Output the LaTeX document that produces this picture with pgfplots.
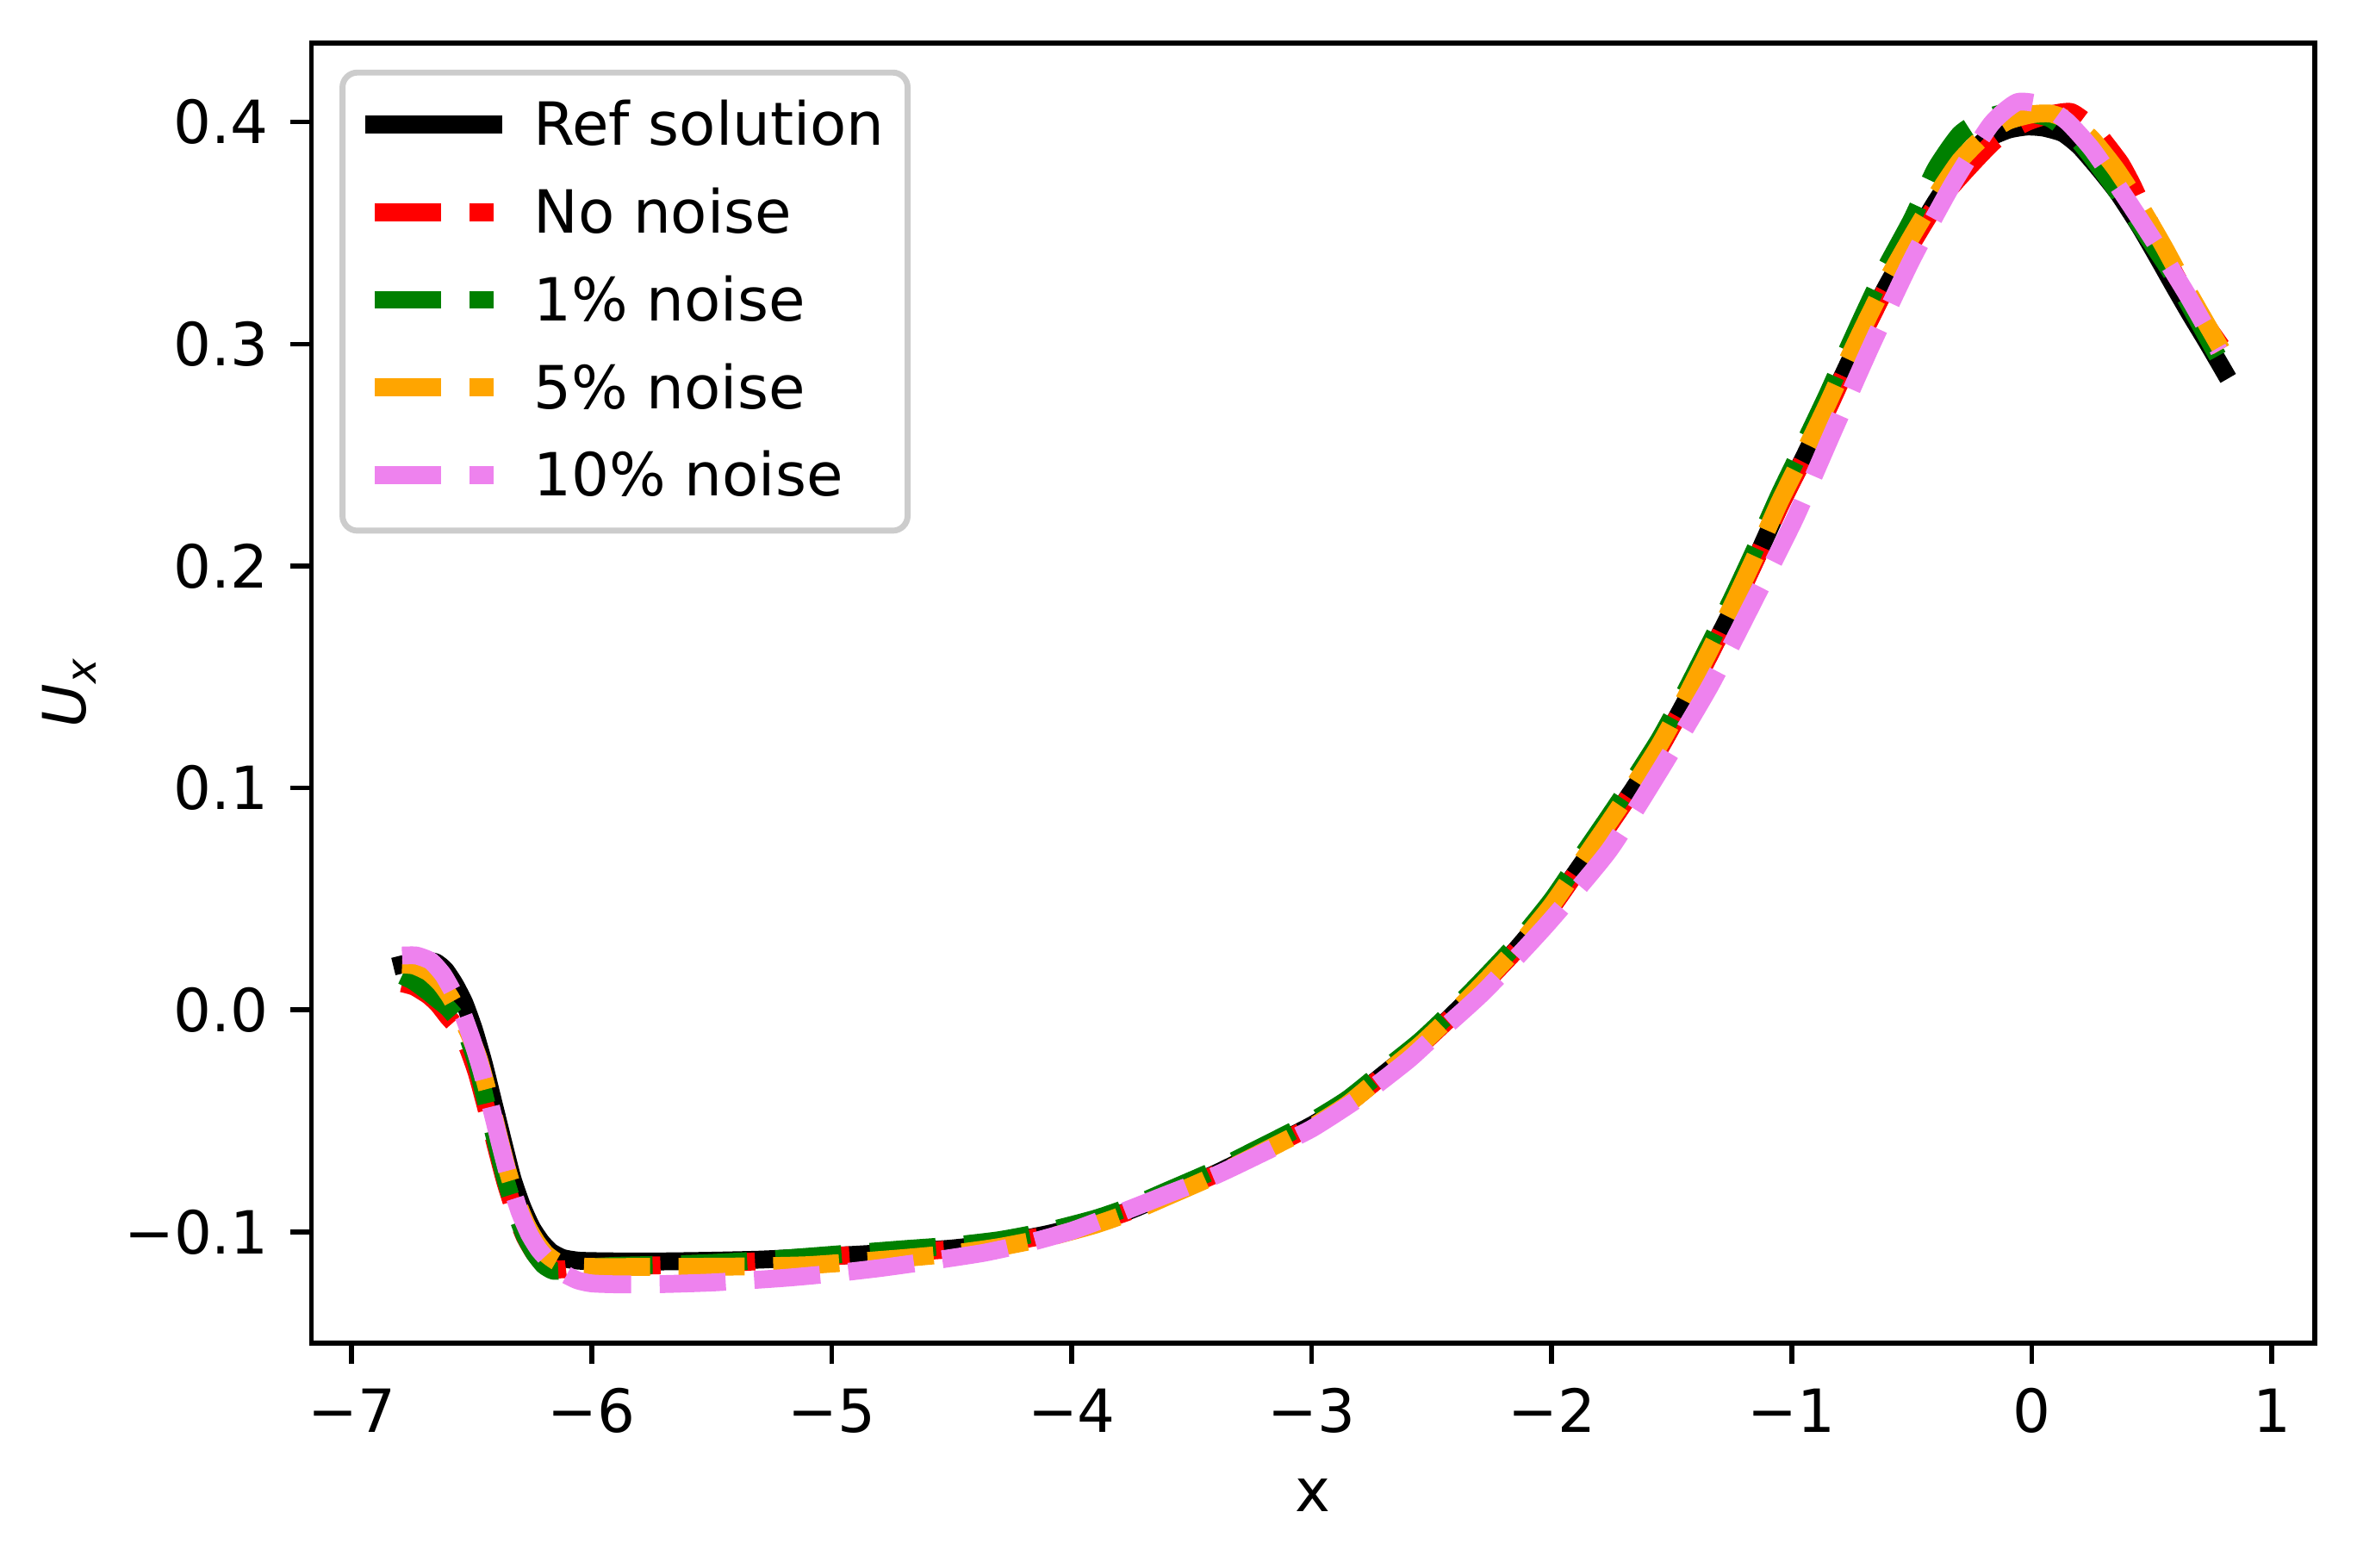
\documentclass[border=0pt]{standalone}
\usepackage{fontspec}
\setmainfont{DejaVu Sans}
\usepackage{pgfplots}
\pgfplotsset{compat=1.18}
\definecolor{mplgreen}{RGB}{0,128,0}
\definecolor{mplorange}{RGB}{255,165,0}
\definecolor{mplviolet}{RGB}{238,130,238}
\definecolor{legendedge}{gray}{0.8}
\begin{document}
\fontsize{10}{12}\selectfont
\begin{tikzpicture}
\begin{axis}[
  at={(0,0)}, anchor=south west,
  scale only axis, width=336.57pt, height=218.43pt,
  xmin=-7.1673, xmax=1.1795, ymin=-0.1502, ymax=0.4356,
  axis line style={line width=0.8pt},
  tick align=outside, major tick length=3.5pt,
  every tick/.style={black, line width=0.8pt},
  xtick pos=bottom, ytick pos=left,
  xtick={-7,-6,-5,-4,-3,-2,-1,0,1},
  xticklabels={−7,−6,−5,−4,−3,−2,−1,0,1},
  ytick={-0.1,0,0.1,0.2,0.3,0.4},
  yticklabels={−0.1,0.0,0.1,0.2,0.3,0.4},
  xticklabel style={inner sep=0pt, anchor=north, font=\fontsize{10}{12}\selectfont},
  yticklabel style={inner sep=0pt, anchor=east, font=\fontsize{10}{12}\selectfont},
  xticklabel shift=3.9pt, yticklabel shift=3.5pt,
  every axis x label/.style={at={(axis description cs:0.5,0)}, anchor=base, yshift=-28.3pt, font=\fontsize{10}{12}\selectfont},
  every axis y label/.style={at={(axis description cs:-0.11252,0.5)}, rotate=90, anchor=base, font=\fontsize{10}{12}\selectfont},
  xlabel={x},
  ylabel={{\itshape U}\raisebox{-1.7pt}{\fontsize{7}{8}\selectfont\itshape x}},
  legend image code/.code={\draw[#1] (0pt,3.5pt) -- (20pt,3.5pt);},
  legend style={at={(rel axis cs:0,1)}, anchor=north west, xshift=5.2pt, yshift=-4.95pt,
    draw=legendedge, line width=1pt, rounded corners=2.5pt, fill=white, fill opacity=0.8, text opacity=1,
    inner xsep=3.9pt, inner ysep=3.4pt, outer sep=0pt, row sep=3.54pt,
    font=\fontsize{10}{12}\selectfont,
    nodes={inner sep=0pt, text height=8.8pt, text depth=2.4pt, anchor=base west},
    /tikz/every odd column/.append style={column sep=5.2pt}},
  dashstyle/.style={line width=3pt, line cap=butt, line join=round, dash pattern=on 11.1pt off 4.8pt, smooth, tension=0.35},
]
\addplot[black, line width=3pt, line cap=rect, line join=round, smooth, tension=0.35] coordinates {
(-6.79,0.0205)(-6.75,0.0215)(-6.70,0.0222)(-6.65,0.0215)(-6.61,0.0180)(-6.57,0.0115)(-6.53,0.0030)(-6.49,-0.0090)(-6.45,-0.0240)(-6.41,-0.0415)(-6.37,-0.0590)(-6.33,-0.0760)(-6.29,-0.0885)(-6.25,-0.0980)(-6.21,-0.1045)(-6.17,-0.1090)(-6.12,-0.1118)(-6.05,-0.1130)(-5.90,-0.1133)(-5.70,-0.1133)(-5.50,-0.1130)(-5.30,-0.1125)(-5.10,-0.1115)(-4.90,-0.1103)(-4.70,-0.1090)(-4.50,-0.1075)(-4.30,-0.1050)(-4.10,-0.1010)(-3.90,-0.0955)(-3.75,-0.0900)(-3.60,-0.0830)(-3.40,-0.0737)(-3.20,-0.0630)(-3.00,-0.0520)(-2.85,-0.0420)(-2.70,-0.0290)(-2.55,-0.0160)(-2.43,-0.0040)(-2.30,0.0100)(-2.15,0.0270)(-2.00,0.0465)(-1.88,0.0650)(-1.77,0.0820)(-1.66,0.0995)(-1.55,0.1180)(-1.45,0.1375)(-1.35,0.1585)(-1.25,0.1800)(-1.15,0.2030)(-1.05,0.2270)(-0.94,0.2510)(-0.85,0.2710)(-0.78,0.2875)(-0.70,0.3055)(-0.61,0.3250)(-0.50,0.3460)(-0.40,0.3640)(-0.30,0.3800)(-0.20,0.3915)(-0.10,0.3965)(-0.02,0.3980)(0.05,0.3975)(0.13,0.3950)(0.20,0.3890)(0.28,0.3790)(0.36,0.3680)(0.45,0.3530)(0.52,0.3400)(0.59,0.3266)(0.66,0.3135)(0.73,0.3010)(0.80,0.2880)
};
\addlegendentry{Ref solution}
\addplot[red, dashstyle] coordinates {
(-6.79,0.0120)(-6.74,0.0105)(-6.68,0.0065)(-6.64,0.0025)(-6.60,-0.0030)(-6.56,-0.0080)(-6.52,-0.0160)(-6.48,-0.0280)(-6.44,-0.0440)(-6.40,-0.0610)(-6.36,-0.0775)(-6.32,-0.0910)(-6.28,-0.1020)(-6.24,-0.1095)(-6.20,-0.1145)(-6.16,-0.1168)(-6.11,-0.1168)(-6.05,-0.1160)(-5.90,-0.1155)(-5.70,-0.1150)(-5.50,-0.1142)(-5.30,-0.1132)(-5.10,-0.1118)(-4.90,-0.1103)(-4.70,-0.1092)(-4.50,-0.1078)(-4.30,-0.1053)(-4.10,-0.1013)(-3.90,-0.0958)(-3.75,-0.0903)(-3.60,-0.0833)(-3.40,-0.0740)(-3.20,-0.0633)(-3.00,-0.0523)(-2.85,-0.0423)(-2.70,-0.0293)(-2.55,-0.0163)(-2.43,-0.0043)(-2.30,0.0097)(-2.15,0.0267)(-2.00,0.0462)(-1.88,0.0647)(-1.77,0.0817)(-1.66,0.0992)(-1.55,0.1177)(-1.45,0.1372)(-1.35,0.1582)(-1.25,0.1797)(-1.15,0.2027)(-1.05,0.2267)(-0.94,0.2505)(-0.85,0.2705)(-0.78,0.2870)(-0.70,0.3050)(-0.61,0.3245)(-0.50,0.3450)(-0.40,0.3625)(-0.28,0.3775)(-0.15,0.3920)(-0.02,0.4000)(0.08,0.4035)(0.165,0.4045)(0.25,0.3980)(0.30,0.3915)(0.37,0.3815)(0.42,0.3715)(0.50,0.3530)(0.60,0.3310)(0.70,0.3130)(0.79,0.2990)
};
\addlegendentry{No noise}
\addplot[mplgreen, dashstyle] coordinates {
(-6.79,0.0155)(-6.74,0.0128)(-6.68,0.0080)(-6.64,0.0045)(-6.60,0.0010)(-6.56,-0.0040)(-6.52,-0.0110)(-6.48,-0.0240)(-6.44,-0.0415)(-6.40,-0.0590)(-6.36,-0.0760)(-6.32,-0.0900)(-6.28,-0.1015)(-6.24,-0.1095)(-6.20,-0.1150)(-6.16,-0.1175)(-6.11,-0.1172)(-6.05,-0.1162)(-5.90,-0.1153)(-5.70,-0.1148)(-5.50,-0.1140)(-5.30,-0.1128)(-5.10,-0.1112)(-4.90,-0.1095)(-4.70,-0.1078)(-4.50,-0.1062)(-4.30,-0.1037)(-4.10,-0.0996)(-3.90,-0.0940)(-3.75,-0.0884)(-3.60,-0.0814)(-3.40,-0.0720)(-3.20,-0.0612)(-3.00,-0.0502)(-2.85,-0.0402)(-2.70,-0.0272)(-2.55,-0.0142)(-2.43,-0.0020)(-2.30,0.0122)(-2.15,0.0295)(-2.00,0.0495)(-1.88,0.0685)(-1.77,0.0858)(-1.66,0.1035)(-1.55,0.1222)(-1.45,0.1420)(-1.35,0.1632)(-1.25,0.1850)(-1.15,0.2082)(-1.05,0.2325)(-0.94,0.2570)(-0.85,0.2775)(-0.78,0.2945)(-0.70,0.3135)(-0.61,0.3340)(-0.50,0.3560)(-0.40,0.3790)(-0.30,0.3945)(-0.20,0.4015)(-0.10,0.4045)(-0.02,0.4040)(0.08,0.4015)(0.20,0.3910)(0.335,0.3720)(0.45,0.3535)(0.576,0.3330)(0.68,0.3130)(0.79,0.2915)
};
\addlegendentry{1\% noise}
\addplot[mplorange, dashstyle] coordinates {
(-6.79,0.0205)(-6.74,0.0200)(-6.68,0.0170)(-6.63,0.0120)(-6.59,0.0060)(-6.55,-0.0020)(-6.51,-0.0110)(-6.47,-0.0220)(-6.43,-0.0380)(-6.39,-0.0555)(-6.35,-0.0725)(-6.31,-0.0865)(-6.27,-0.0970)(-6.23,-0.1045)(-6.19,-0.1100)(-6.14,-0.1138)(-6.08,-0.1153)(-6.00,-0.1158)(-5.80,-0.1158)(-5.50,-0.1157)(-5.30,-0.1155)(-5.10,-0.1150)(-4.90,-0.1135)(-4.70,-0.1118)(-4.50,-0.1098)(-4.30,-0.1068)(-4.10,-0.1025)(-3.90,-0.0967)(-3.75,-0.0910)(-3.60,-0.0840)(-3.40,-0.0745)(-3.20,-0.0637)(-3.00,-0.0527)(-2.85,-0.0425)(-2.70,-0.0292)(-2.55,-0.0160)(-2.43,-0.0038)(-2.30,0.0103)(-2.15,0.0275)(-2.00,0.0472)(-1.88,0.0660)(-1.77,0.0832)(-1.66,0.1008)(-1.55,0.1195)(-1.45,0.1392)(-1.35,0.1603)(-1.25,0.1818)(-1.15,0.2048)(-1.05,0.2290)(-0.94,0.2530)(-0.85,0.2732)(-0.78,0.2898)(-0.70,0.3080)(-0.61,0.3275)(-0.50,0.3485)(-0.40,0.3665)(-0.30,0.3825)(-0.20,0.3935)(-0.10,0.4005)(0.00,0.4035)(0.08,0.4038)(0.16,0.4005)(0.25,0.3925)(0.35,0.3790)(0.45,0.3625)(0.55,0.3440)(0.65,0.3240)(0.79,0.2975)
};
\addlegendentry{5\% noise}
\addplot[mplviolet, dashstyle] coordinates {
(-6.79,0.0245)(-6.73,0.0245)(-6.67,0.0220)(-6.62,0.0160)(-6.58,0.0085)(-6.54,-0.0010)(-6.50,-0.0130)(-6.46,-0.0270)(-6.42,-0.0435)(-6.38,-0.0610)(-6.34,-0.0775)(-6.30,-0.0910)(-6.26,-0.1010)(-6.22,-0.1080)(-6.17,-0.1140)(-6.12,-0.1185)(-6.06,-0.1218)(-6.00,-0.1232)(-5.90,-0.1236)(-5.70,-0.1235)(-5.50,-0.1228)(-5.30,-0.1215)(-5.17,-0.1205)(-5.00,-0.1188)(-4.80,-0.1163)(-4.60,-0.1133)(-4.37,-0.1095)(-4.20,-0.1055)(-4.00,-0.0995)(-3.80,-0.0915)(-3.60,-0.0830)(-3.40,-0.0745)(-3.20,-0.0642)(-3.00,-0.0535)(-2.80,-0.0395)(-2.60,-0.0228)(-2.50,-0.0130)(-2.28,0.0085)(-2.02,0.0385)(-1.76,0.0720)(-1.54,0.1095)(-1.34,0.1460)(-1.16,0.1838)(-0.985,0.2218)(-0.83,0.2600)(-0.67,0.2990)(-0.50,0.3380)(-0.33,0.3720)(-0.17,0.3990)(-0.06,0.4090)(0.05,0.4075)(0.15,0.4000)(0.25,0.3880)(0.36,0.3710)(0.47,0.3530)(0.57,0.3360)(0.66,0.3200)(0.78,0.2970)
};
\addlegendentry{10\% noise}
\end{axis}
\pgfresetboundingbox
\path[use as bounding box] (-52.34pt,-37.73pt) rectangle (343.66pt,225.67pt);
\end{tikzpicture}
\end{document}
